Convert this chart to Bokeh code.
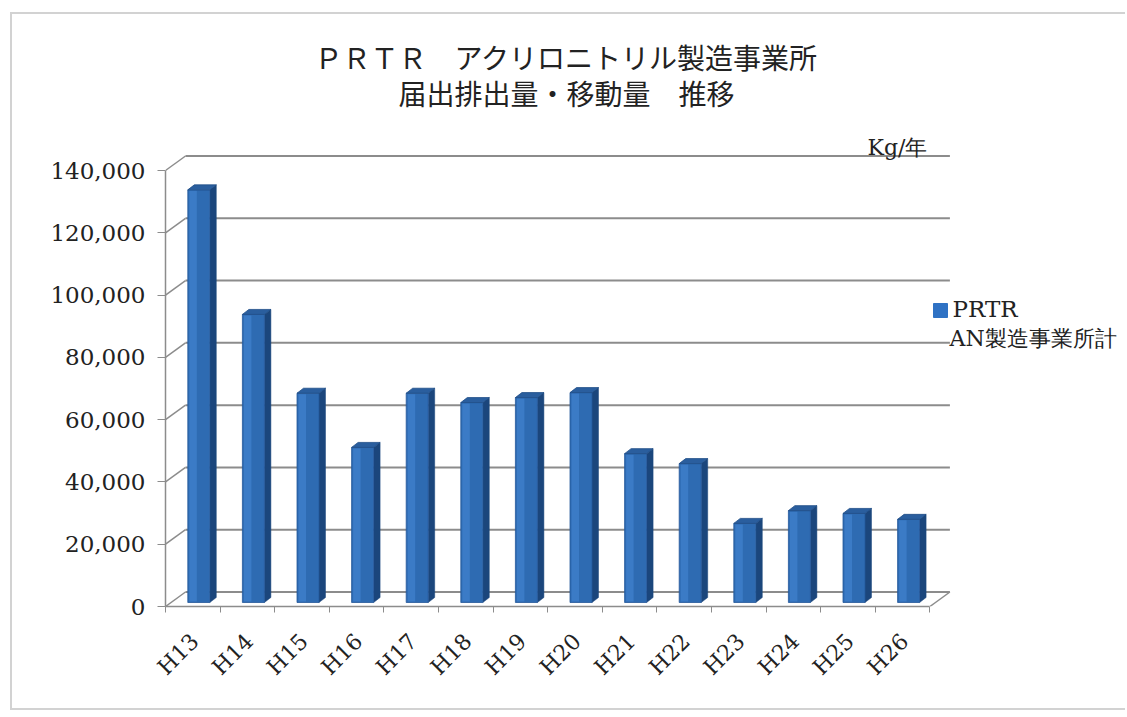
import math
from bokeh.plotting import figure
from bokeh.models import FixedTicker, NumeralTickFormatter, Label, Range1d
from bokeh.embed import file_html
from bokeh.resources import INLINE

# ---------------- data ----------------
categories = ["H13", "H14", "H15", "H16", "H17", "H18", "H19",
              "H20", "H21", "H22", "H23", "H24", "H25", "H26"]
values = [132500, 92500, 67200, 49800, 67200, 64200, 65800,
          67400, 47800, 44600, 25400, 29500, 28600, 26700]
y_ticks = [0, 20000, 40000, 60000, 80000, 100000, 120000, 140000]
title_line1 = "ＰＲＴＲ　アクリロニトリル製造事業所"
title_line2 = "届出排出量・移動量　推移"
unit_text = "Kg/年"
legend_line1 = "PRTR"
legend_line2 = "AN製造事業所計"

# ---------------- layout (page pixels of the reference) ----------------
OX, OY = 12, 14            # canvas origin on the page (after CSS margin + border)
W, H = 1115, 698
AXIS_X, FLOOR_Y = 165, 606  # front y-axis line / front floor line (page px)
PX_X = 54.6                 # px per category
PX_Y = 436 / 140000         # px per unit
ML = AXIS_X - OX
MB = H - (FLOOR_Y - OY)
X0 = -0.5
X1 = X0 + (W - ML) / PX_X
Y1 = (FLOOR_Y - OY) / PX_Y


def dx(px):
    return px / PX_X


def dy(px):
    return px / PX_Y


def fx(page_x):
    return X0 + (page_x - AXIS_X) / PX_X


def fy(page_y):
    return (FLOOR_Y - page_y) / PX_Y


DEPTH_X, DEPTH_Y = dx(20), dy(14.5)        # wall depth
FRONT_X, FRONT_Y = dx(6), dy(4)            # bar front-face shift
BAR_W = dx(22)
BAR_DX, BAR_DY = dx(6.5), dy(5)            # bar depth
GRID = "#8c8c8c"
FRONT = "#2E6BB2"
FRONT_HI = "#3B7BC6"
SIDE = "#1B467C"
TOP = "#2A5E9E"
SERIF = "DejaVu Serif"
TXT = "#222222"

p = figure(width=W, height=H, output_backend="svg", toolbar_location=None,
           x_range=Range1d(X0, X1), y_range=Range1d(0, Y1),
           min_border_left=ML, min_border_right=0,
           min_border_top=0, min_border_bottom=MB)
p.outline_line_color = None
p.grid.visible = False
p.background_fill_color = "white"
p.border_fill_color = "white"
p.styles = {"margin-left": "10px", "margin-top": "12px",
            "border-left": "2px solid #d2d2d2",
            "border-top": "2px solid #d2d2d2",
            "border-bottom": "2px solid #d2d2d2"}

n = len(categories)
left_x = X0
right_x = n - 0.5

# back wall gridlines
p.segment(x0=[left_x + DEPTH_X] * len(y_ticks), y0=[v + DEPTH_Y for v in y_ticks],
          x1=[right_x + DEPTH_X] * len(y_ticks), y1=[v + DEPTH_Y for v in y_ticks],
          line_color=GRID, line_width=2)
# left wall diagonals
p.segment(x0=[left_x] * len(y_ticks), y0=y_ticks,
          x1=[left_x + DEPTH_X] * len(y_ticks), y1=[v + DEPTH_Y for v in y_ticks],
          line_color=GRID, line_width=1.5)
# floor right edge
p.segment(x0=[right_x], y0=[0], x1=[right_x + DEPTH_X], y1=[DEPTH_Y],
          line_color=GRID, line_width=1.5)

# bars (3D look)
xs_c = list(range(n))
fl = [k + FRONT_X - BAR_W / 2 for k in xs_c]
fr = [k + FRONT_X + BAR_W / 2 for k in xs_c]
fb = [FRONT_Y] * n
ft = [v + FRONT_Y for v in values]

side_xs = [[r, r + BAR_DX, r + BAR_DX, r] for r in fr]
side_ys = [[b, b + BAR_DY, t + BAR_DY, t] for b, t in zip(fb, ft)]
top_xs = [[l, r, r + BAR_DX, l + BAR_DX] for l, r in zip(fl, fr)]
top_ys = [[t, t, t + BAR_DY, t + BAR_DY] for t in ft]

p.patches(xs=side_xs, ys=side_ys, fill_color=SIDE, line_color=SIDE, line_width=0.5)
p.quad(left=fl, right=fr, bottom=fb, top=ft, fill_color=FRONT, line_color="#24589A", line_width=0.8)
p.quad(left=[l + dx(1.5) for l in fl], right=[l + dx(9) for l in fl], bottom=[b + dy(1) for b in fb],
       top=[t - dy(1) for t in ft], fill_color=FRONT_HI, line_color=None)
p.patches(xs=top_xs, ys=top_ys, fill_color=TOP, line_color="#1E4C86", line_width=0.8)

# axes
ya = p.yaxis[0]
ya.ticker = FixedTicker(ticks=y_ticks)
ya.formatter = NumeralTickFormatter(format="0,0")
ya.bounds = (0, y_ticks[-1])
ya.axis_line_color = GRID
ya.axis_line_width = 1.5
ya.major_tick_line_color = GRID
ya.major_tick_out = 8
ya.major_tick_in = 0
ya.minor_tick_line_color = None
ya.major_label_text_font = SERIF
ya.major_label_text_font_size = "23px"
ya.major_label_text_color = TXT
ya.major_label_standoff = 12

LABEL_SHIFT = dx(2)
xa = p.xaxis[0]
xa.ticker = FixedTicker(ticks=[k + LABEL_SHIFT for k in xs_c],
                        minor_ticks=[k - 0.5 for k in range(n + 1)])
xa.major_label_overrides = {k + LABEL_SHIFT: c for k, c in enumerate(categories)}
xa.major_label_orientation = math.pi / 4
xa.bounds = (left_x, right_x)
xa.axis_line_color = GRID
xa.axis_line_width = 1.5
xa.major_tick_line_color = None
xa.major_tick_out = 0
xa.major_tick_in = 0
xa.minor_tick_line_color = GRID
xa.minor_tick_out = 6
xa.minor_tick_in = 0
xa.major_label_text_font = SERIF
xa.major_label_text_font_size = "22px"
xa.major_label_text_color = TXT
xa.major_label_standoff = 25

# titles
for txt, py in ((title_line1, 56), (title_line2, 92)):
    p.add_layout(Label(x=fx(566), y=fy(py), text=txt, text_align="center",
                       text_baseline="middle", text_font="Noto Sans CJK JP",
                       text_font_size="28px", text_color=TXT))

# unit label
p.add_layout(Label(x=fx(897), y=fy(147), text=unit_text, text_align="center",
                   text_baseline="middle", text_font=SERIF,
                   text_font_size="22px", text_color=TXT))

# legend
p.scatter(x=[fx(940)], y=[fy(310)], marker="square", size=14,
          fill_color="#2F72C4", line_color="#2F72C4")
p.add_layout(Label(x=fx(952), y=fy(308), text=legend_line1, text_align="left",
                   text_baseline="middle", text_font=SERIF,
                   text_font_size="23px", text_color=TXT))
p.add_layout(Label(x=fx(949), y=fy(338), text=legend_line2, text_align="left",
                   text_baseline="middle", text_font=SERIF,
                   text_font_size="22px", text_color=TXT))

open("out.html", "w").write(file_html(p, INLINE, "PRTR"))
